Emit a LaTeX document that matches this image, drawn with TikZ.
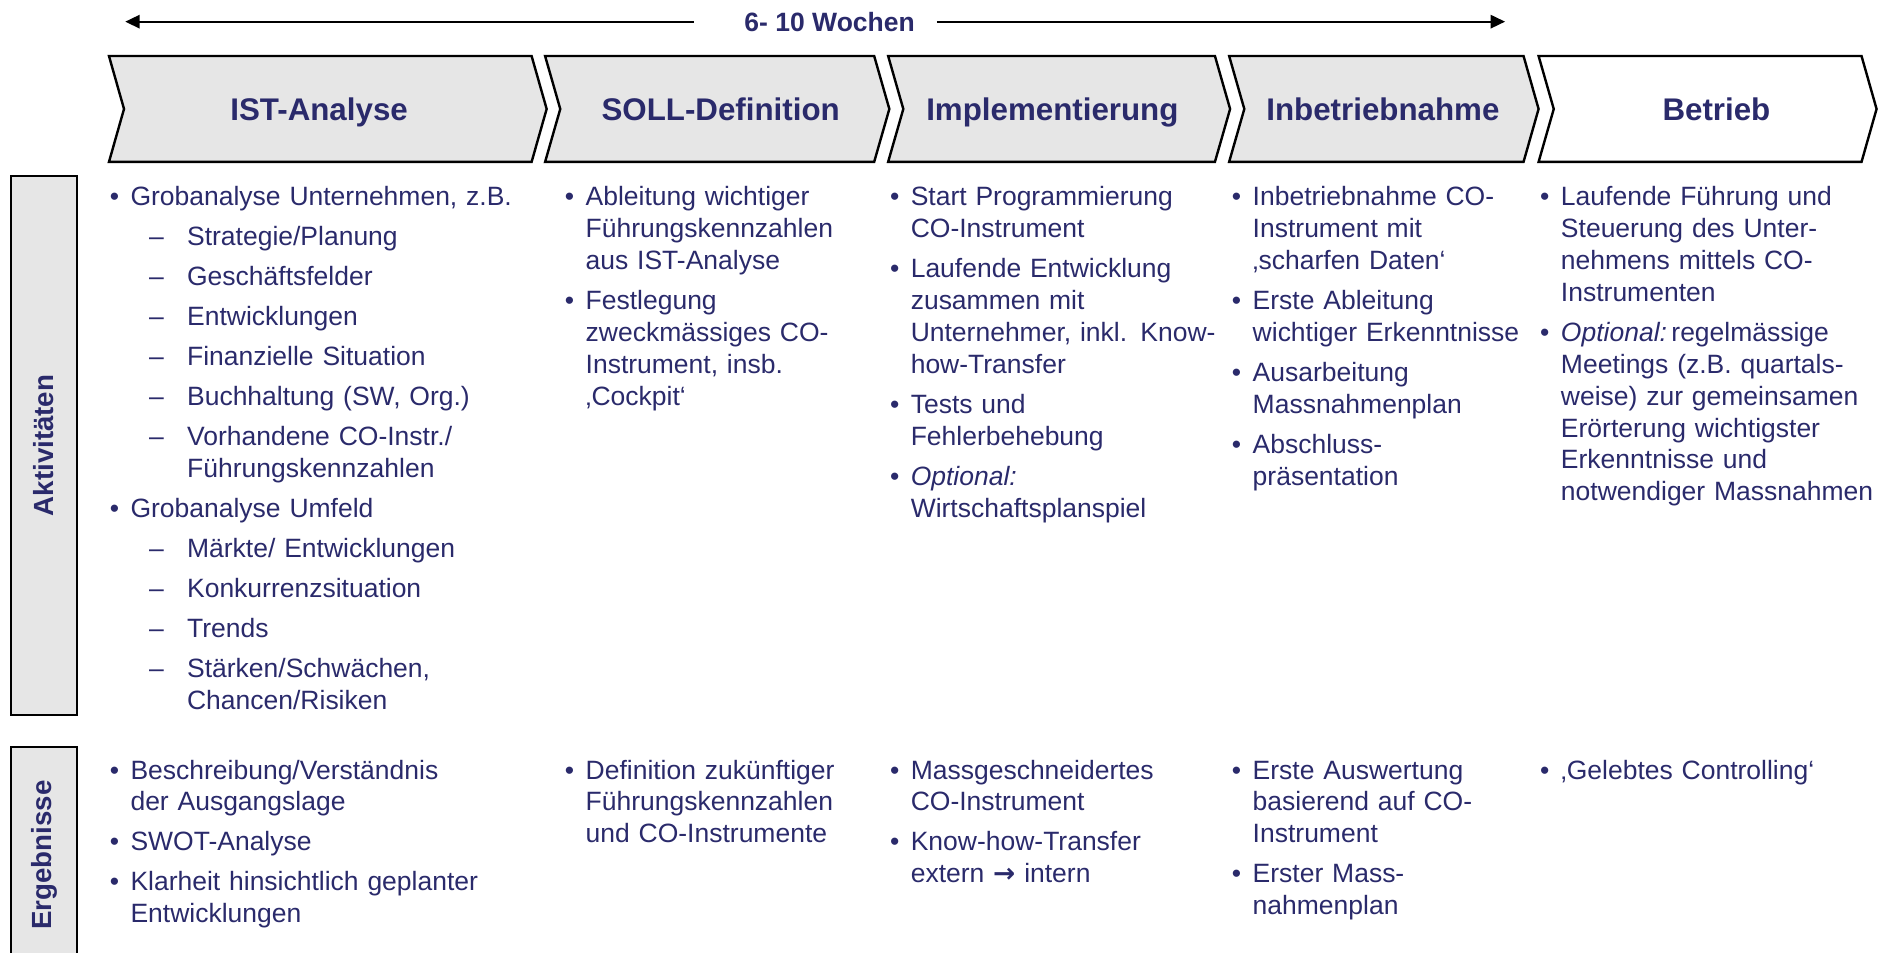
\documentclass[tikz,border=0pt]{standalone}
\usepackage{fontspec}
\setmainfont{Liberation Sans}
\newfontfamily\arrowfont{DejaVu Sans}
\usetikzlibrary{arrows.meta}
\definecolor{navy}{HTML}{2A2A6B}
\definecolor{chev}{HTML}{E6E6E6}
\tikzset{
  itm/.style={anchor=base west, inner sep=0pt, text width=170pt, align=left, font=\fontsize{11}{13.25}\selectfont, text=navy},
  bul/.style={anchor=base, inner sep=0pt, font=\fontsize{11}{13.25}\selectfont, text=navy},
  chevron/.style={draw=black, line width=1pt, fill=chev, line join=miter},
  phase/.style={anchor=base, inner sep=0pt, font=\fontsize{13}{15}\selectfont\bfseries, text=navy},
  rowlabel/.style={draw=black, line width=1pt, fill=chev, rotate=90, inner sep=0pt, minimum height=27.5pt, font=\fontsize{11.5}{13}\selectfont\bfseries, text=navy},
  timeline/.style={line width=0.9pt, -{Triangle[length=6pt,width=5.5pt]}},
  wochen/.style={anchor=base, inner sep=0pt, font=\fontsize{11}{13}\selectfont\bfseries, text=navy},
}
\newcommand{\mybitem}[4]{\node[itm] (#1) at (#2,#3) {#4};\node[bul] (#1-b) at ([xshift=-6.5pt]#1.base west) {•};}
\newcommand{\myditem}[4]{\node[itm] (#1) at (#2,#3) {#4};\node[bul] (#1-d) at ([xshift=-12.5pt]#1.base west) {–};}
\begin{document}
\begin{tikzpicture}[x=0.5pt,y=-0.5pt]
\useasboundingbox (0,0) rectangle (1568,791);
\clip (0,0) rectangle (1568,791);
% timeline
\node[wochen] (woch) at (689,26) {6- 10 Wochen};
\coordinate (tlL) at (104,18);
\coordinate (tlR) at (1250,18);
\coordinate (tlLs) at (576,18);
\coordinate (tlRs) at (778,18);
\draw[timeline] (tlLs) -- (tlL);
\draw[timeline] (tlRs) -- (tlR);
% chevrons
\draw[chevron] (90.5,46.5) -- (441.5,46.5) -- (454,90.5) -- (441.5,134.5) -- (90.5,134.5) -- (103,90.5) -- cycle;
\draw[chevron] (452.7,46.5) -- (726,46.5) -- (738.6,90.5) -- (726,134.5) -- (452.7,134.5) -- (465.3,90.5) -- cycle;
\draw[chevron] (737.6,46.5) -- (1009,46.5) -- (1021.6,90.5) -- (1009,134.5) -- (737.6,134.5) -- (750.2,90.5) -- cycle;
\draw[chevron] (1020.8,46.5) -- (1265.3,46.5) -- (1277.8,90.5) -- (1265.3,134.5) -- (1020.8,134.5) -- (1033.4,90.5) -- cycle;
\draw[chevron, fill=white] (1277.8,46.5) -- (1546,46.5) -- (1558.5,90.5) -- (1546,134.5) -- (1277.8,134.5) -- (1290.4,90.5) -- cycle;
\node[phase] (p1) at (265,100) {IST-Analyse};
\node[phase] (p2) at (598.5,100) {SOLL-Definition};
\node[phase] (p3) at (874,100) {Implementierung};
\node[phase] (p4) at (1148.5,100) {Inbetriebnahme};
\node[phase] (p5) at (1425.5,100) {Betrieb};
% row labels
\node[rowlabel, minimum width=224pt] (akt) at (36.5,370) {Aktivitäten};
\node[rowlabel, minimum width=89.75pt] (erg) at (36.5,710.25) {Ergebnisse};
% Aktivitaeten col 1
\mybitem{a11}{108}{170.8}{Grobanalyse Unternehmen, z.B.}
\myditem{a12}{155}{204}{Strategie/Planung}
\myditem{a13}{155}{237.2}{Geschäftsfelder}
\myditem{a14}{155}{270.4}{Entwicklungen}
\myditem{a15}{155}{303.6}{Finanzielle Situation}
\myditem{a16}{155}{336.8}{Buchhaltung (SW, Org.)}
\myditem{a17}{155}{370}{Vorhandene CO-Instr./\\Führungskennzahlen}
\mybitem{a18}{108}{429.7}{Grobanalyse Umfeld}
\myditem{a19}{155}{462.9}{Märkte/ Entwicklungen}
\myditem{a1a}{155}{496.1}{Konkurrenzsituation}
\myditem{a1b}{155}{529.3}{Trends}
\myditem{a1c}{155}{562.5}{Stärken/Schwächen,\\Chancen/Risiken}
% col 2
\mybitem{a21}{486}{170.8}{Ableitung wichtiger\\Führungskennzahlen\\aus IST-Analyse}
\mybitem{a22}{486}{257}{Festlegung\\zweckmässiges CO-\\Instrument, insb.\\‚Cockpit‘}
% col 3
\mybitem{a31}{756}{170.8}{Start Programmierung\\CO-Instrument}
\mybitem{a32}{756}{230.5}{Laufende Entwicklung\\zusammen mit\\Unternehmer, inkl. Know-\\how-Transfer}
\mybitem{a33}{756}{343.2}{Tests und\\Fehlerbehebung}
\mybitem{a34}{756}{402.9}{\textit{Optional:}\\Wirtschaftsplanspiel}
% col 4
\mybitem{a41}{1040}{170.8}{Inbetriebnahme CO-\\Instrument mit\\‚scharfen Daten‘}
\mybitem{a42}{1040}{257}{Erste Ableitung\\wichtiger Erkenntnisse}
\mybitem{a43}{1040}{316.7}{Ausarbeitung\\Massnahmenplan}
\mybitem{a44}{1040}{376.4}{Abschluss-\\präsentation}
% col 5
\mybitem{a51}{1296}{170.8}{Laufende Führung und\\Steuerung des Unter-\\nehmens mittels CO-\\Instrumenten}
\mybitem{a52}{1296}{283.5}{\textit{Optional:}\,regelmässige\\Meetings (z.B. quartals-\\weise) zur gemeinsamen\\Erörterung wichtigster\\Erkenntnisse und\\notwendiger Massnahmen}
% Ergebnisse
\mybitem{e11}{108}{647}{Beschreibung/Verständnis\\der Ausgangslage}
\mybitem{e12}{108}{706.7}{SWOT-Analyse}
\mybitem{e13}{108}{739.9}{Klarheit hinsichtlich geplanter\\Entwicklungen}
\mybitem{e21}{486}{647}{Definition zukünftiger\\Führungskennzahlen\\und CO-Instrumente}
\mybitem{e31}{756}{647}{Massgeschneidertes\\CO-Instrument}
\mybitem{e32}{756}{706.7}{Know-how-Transfer\\extern {\arrowfont\bfseries →} intern}
\mybitem{e41}{1040}{647}{Erste Auswertung\\basierend auf CO-\\Instrument}
\mybitem{e42}{1040}{733.2}{Erster Mass-\\nahmenplan}
\mybitem{e51}{1296}{647}{‚Gelebtes Controlling‘}
\end{tikzpicture}
\end{document}
